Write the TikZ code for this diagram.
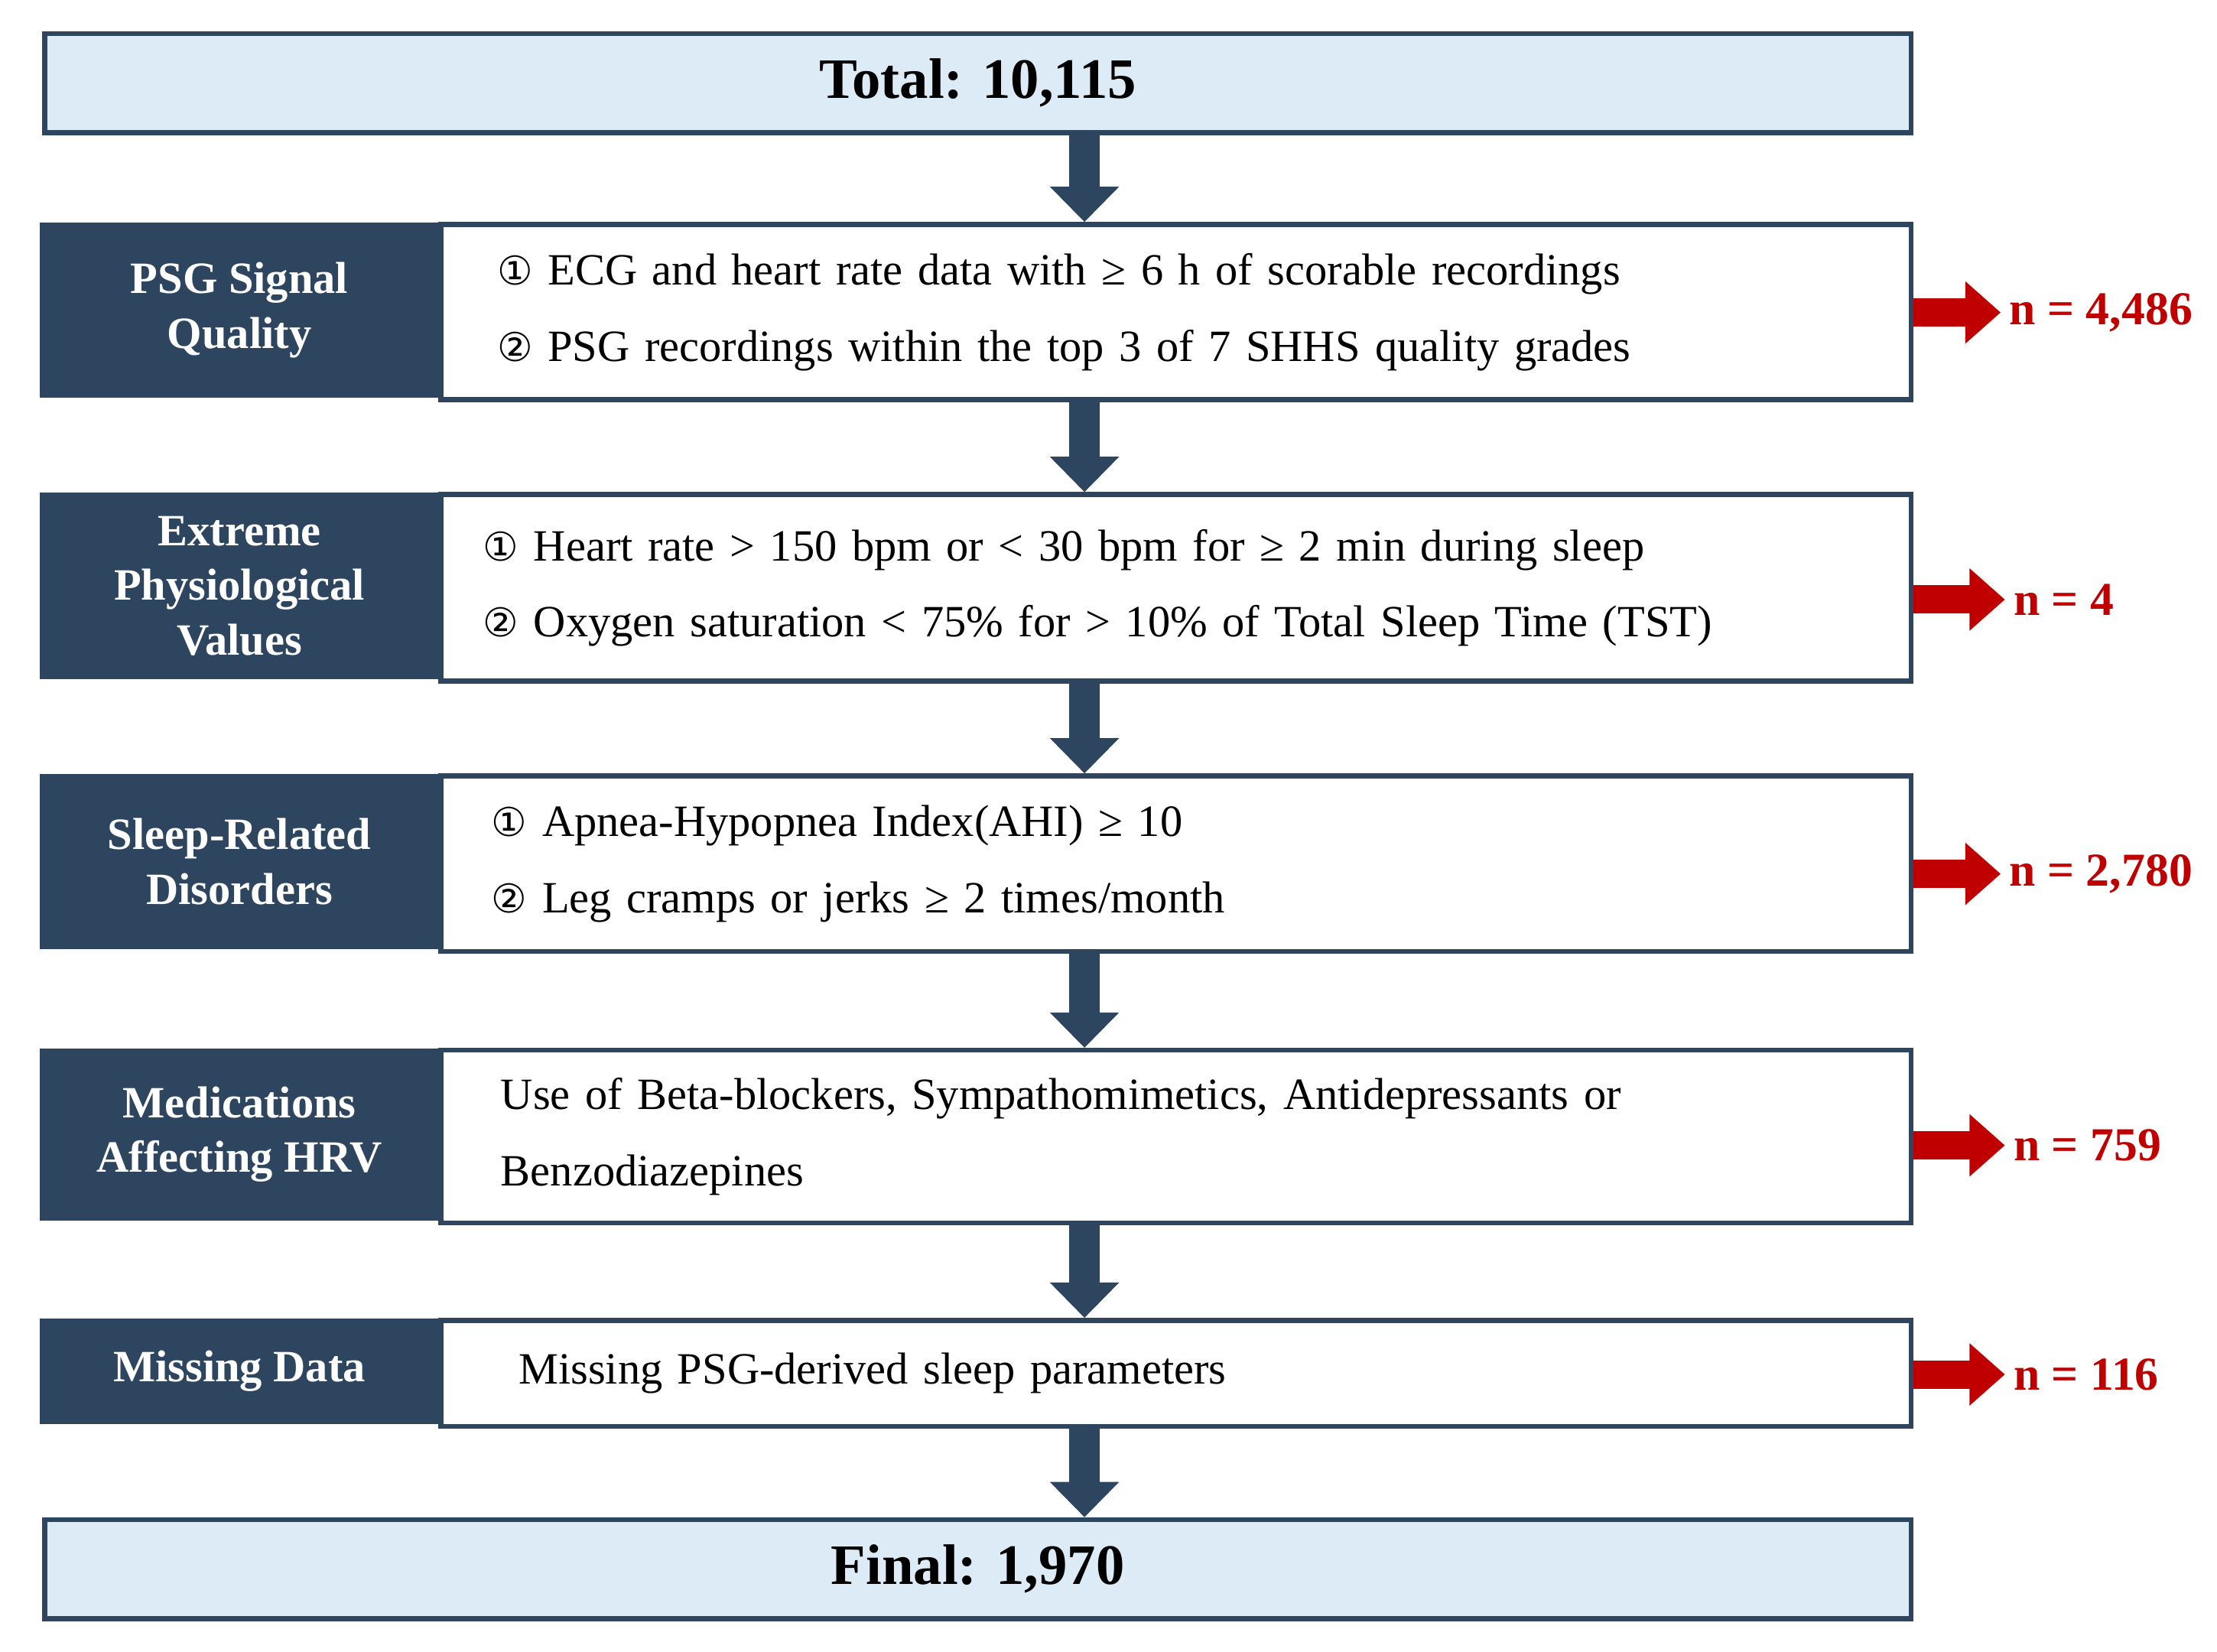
\documentclass[tikz,border=0pt]{standalone}
\usepackage{fontspec}
\setmainfont{Liberation Serif}
\newfontfamily\symfont{DejaVu Sans}
\usetikzlibrary{arrows.meta,positioning}
\definecolor{navy}{HTML}{2E4560}
\definecolor{paleblue}{HTML}{DDEBF7}
\definecolor{cutred}{HTML}{C00000}
\newcommand{\cn}[1]{{\symfont\fontsize{16}{16}\selectfont #1}}
\newcommand{\ind}[1]{\hspace*{#1}}
\tikzset{
  endbox/.style={draw=navy,line width=2pt,fill=paleblue,anchor=north west,
    minimum width=26.4cm,font=\fontsize{23}{27}\selectfont\bfseries},
  head/.style={fill=navy,anchor=north west,minimum width=5.64cm,align=center,
    text=white,font=\fontsize{18}{22}\selectfont\bfseries},
  body/.style={draw=navy,line width=2pt,anchor=north west,minimum width=20.8cm,
    text width=20.2cm,inner xsep=0.3cm,align=left,
    font=\fontsize{18}{30.7}\selectfont},
  down/.style={navy,line width=0.44cm,-{Triangle[length=0.5cm,width=0.95cm]}},
  cut/.style={cutred,line width=0.4cm,-{Triangle[length=0.5cm,width=0.85cm]}},
  count/.style={text=cutred,anchor=west,font=\fontsize{19}{22}\selectfont\bfseries},
}
\begin{document}
\begin{tikzpicture}[x=0.02cm,y=-0.02cm]
\useasboundingbox (0,0) rectangle (1568,1168);
\coordinate (ax) at (767,0);

\node[endbox,minimum height=1.4cm] (total) at (30,22) {Total: 10,115};

\node[head,minimum height=2.48cm] (h1) at (28,157) {PSG Signal\\Quality};
\node[body,minimum height=2.48cm] (c1) at (310,157) {\ind{0.5cm}\cn{①} ECG and heart rate data with ≥ 6 h of scorable recordings\\ \ind{0.5cm}\cn{②} PSG recordings within the top 3 of 7 SHHS quality grades};

\node[head,minimum height=2.64cm] (h2) at (28,348) {Extreme\\Physiological\\Values};
\node[body,minimum height=2.64cm] (c2) at (310,348) {\ind{0.3cm}\cn{①} Heart rate > 150 bpm or < 30 bpm for ≥ 2 min during sleep\\ \ind{0.3cm}\cn{②} Oxygen saturation < 75\% for > 10\% of Total Sleep Time (TST)};

\node[head,minimum height=2.48cm] (h3) at (28,547) {Sleep-Related\\Disorders};
\node[body,minimum height=2.48cm] (c3) at (310,547) {\ind{0.42cm}\cn{①} Apnea-Hypopnea Index(AHI) ≥ 10\\ \ind{0.42cm}\cn{②} Leg cramps or jerks ≥ 2 times/month};

\node[head,minimum height=2.44cm] (h4) at (28,741) {Medications\\Affecting HRV};
\node[body,minimum height=2.44cm] (c4) at (310,741) {\ind{0.55cm}Use of Beta-blockers, Sympathomimetics, Antidepressants or\\ \ind{0.55cm}Benzodiazepines};

\node[head,minimum height=1.5cm] (h5) at (28,932) {Missing Data};
\node[body,minimum height=1.5cm] (c5) at (310,932) {\ind{0.8cm}Missing PSG-derived sleep parameters};

\node[endbox,minimum height=1.4cm] (final) at (30,1073) {Final: 1,970};

% flow
\draw[down] (total.south -| ax) -- (c1.north -| ax);
\draw[down] (c1.south -| ax) -- (c2.north -| ax);
\draw[down] (c2.south -| ax) -- (c3.north -| ax);
\draw[down] (c3.south -| ax) -- (c4.north -| ax);
\draw[down] (c4.south -| ax) -- (c5.north -| ax);
\draw[down] (c5.south -| ax) -- (final.north -| ax);

% excluded
\node[count] (n1) at (1415,221) {n = 4,486};
\node[count] (n2) at (1418,424) {n = 4};
\node[count] (n3) at (1415,618) {n = 2,780};
\node[count] (n4) at (1418,810) {n = 759};
\node[count] (n5) at (1418,972) {n = 116};
\draw[cut] (c1.east |- n1) -- (n1.west);
\draw[cut] (c2.east |- n2) -- (n2.west);
\draw[cut] (c3.east |- n3) -- (n3.west);
\draw[cut] (c4.east |- n4) -- (n4.west);
\draw[cut] (c5.east |- n5) -- (n5.west);
\end{tikzpicture}
\end{document}
